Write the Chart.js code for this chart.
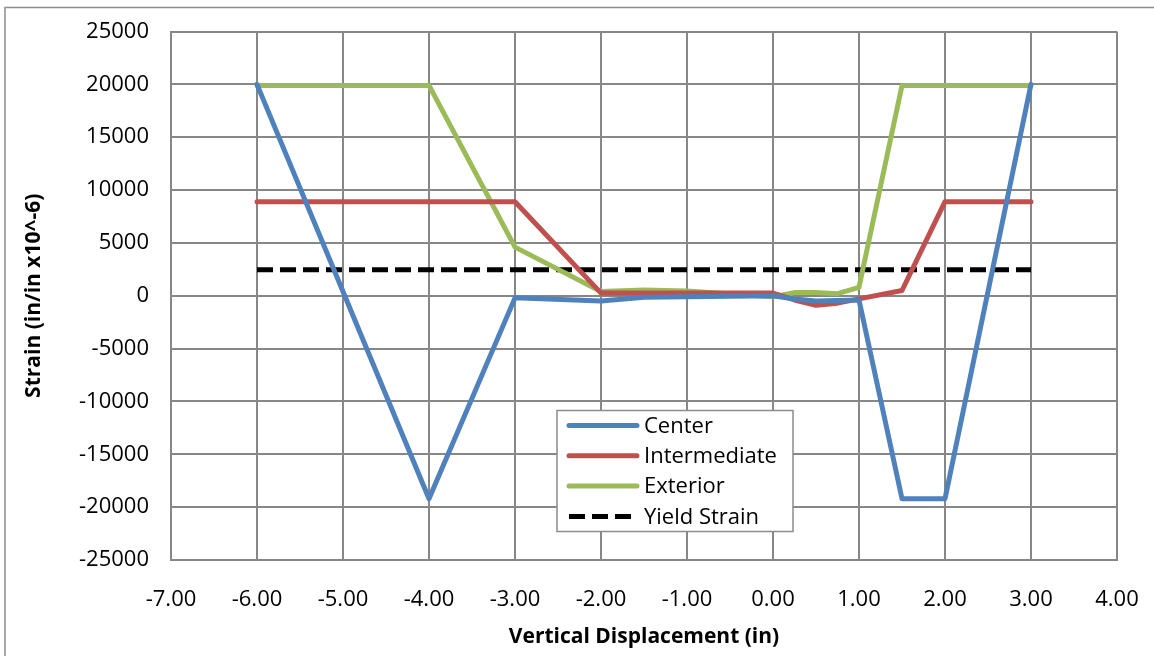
<!DOCTYPE html>
<html>
<head>
<meta charset="utf-8">
<script src="https://cdn.jsdelivr.net/npm/chart.js@4/dist/chart.umd.min.js"></script>
<style>
  html, body { margin: 0; padding: 0; background: #fff; }
  #wrap { width: 1154px; height: 656px; position: relative; }
</style>
</head>
<body>
<div id="wrap"><canvas id="strainChart" width="1154" height="656"></canvas></div>
<script>
// Data
var centerX = [-6, -4, -3, -2, -1.5, -1, 0, 0.25, 0.5, 0.75, 1, 1.5, 2, 3];
var centerY = [20000, -19200, -200, -500, -150, -100, 0, -300, -500, -450, -400, -19200, -19200, 20000];

var intermediateX = [-6, -3, -2, -1, 0, 0.25, 0.5, 0.75, 1, 1.5, 2, 3];
var intermediateY = [8900, 8900, 250, 250, 250, -400, -900, -700, -300, 500, 8900, 8900];

var exteriorX = [-6, -4, -3, -2, -1.5, -1, 0, 0.25, 0.5, 0.75, 1, 1.5, 2, 3];
var exteriorY = [19900, 19900, 4600, 400, 550, 450, -100, 300, 300, 200, 800, 19900, 19900, 19900];

var yieldX = [-6, 3];
var yieldY = [2450, 2450];

var seriesNames = ["Center", "Intermediate", "Exterior", "Yield Strain"];
var seriesColors = ["#4F81BD", "#C0504D", "#9BBB59", "#000000"];

function toPoints(xs, ys) {
  var pts = [];
  for (var i = 0; i < xs.length; i++) pts.push({ x: xs[i], y: ys[i] });
  return pts;
}

var FONT = "'Open Sans', 'Liberation Sans', sans-serif";
var gridColor = "#878787";

// outer border of the chart object
var borderPlugin = {
  id: "outerBorder",
  beforeDraw: function (chart) {
    var ctx = chart.ctx;
    ctx.save();
    ctx.fillStyle = "#fff";
    ctx.fillRect(0, 0, chart.width, chart.height);
    ctx.strokeStyle = "#8c8c8c";
    ctx.lineWidth = 1.5;
    ctx.strokeRect(5, 7.5, 1200, 700);
    ctx.restore();
  }
};

// legend box drawn inside the plot
var boxLegend = {
  id: "boxLegend",
  afterDatasetsDraw: function (chart) {
    var ctx = chart.ctx;
    var a = chart.chartArea;
    var left = a.left + 386, top = a.top + 379, w = 236, h = 121;
    ctx.save();
    ctx.fillStyle = "#fff";
    ctx.fillRect(left, top, w, h);
    ctx.strokeStyle = "#8c8c8c";
    ctx.lineWidth = 1.5;
    ctx.strokeRect(left, top, w, h);
    ctx.font = "22px " + FONT;
    ctx.textBaseline = "middle";
    for (var i = 0; i < seriesNames.length; i++) {
      var cy = top + 15 + i * 30.3;
      ctx.beginPath();
      ctx.strokeStyle = seriesColors[i];
      ctx.lineWidth = 5;
      ctx.lineCap = i === 3 ? "butt" : "round";
      ctx.setLineDash(i === 3 ? [16, 7] : []);
      ctx.moveTo(left + 12, cy);
      ctx.lineTo(left + 80, cy);
      ctx.stroke();
      ctx.setLineDash([]);
      ctx.fillStyle = "#000";
      ctx.fillText(seriesNames[i], left + 87, cy + 1);
    }
    ctx.restore();
  }
};

var ctx = document.getElementById("strainChart").getContext("2d");
var strainChart = new Chart(ctx, {
  type: "scatter",
  data: {
    datasets: [
      { label: seriesNames[0], data: toPoints(centerX, centerY), borderColor: seriesColors[0], backgroundColor: seriesColors[0] },
      { label: seriesNames[1], data: toPoints(intermediateX, intermediateY), borderColor: seriesColors[1], backgroundColor: seriesColors[1] },
      { label: seriesNames[2], data: toPoints(exteriorX, exteriorY), borderColor: seriesColors[2], backgroundColor: seriesColors[2] },
      { label: seriesNames[3], data: toPoints(yieldX, yieldY), borderColor: seriesColors[3], backgroundColor: seriesColors[3], borderDash: [16, 7], borderCapStyle: "butt" }
    ]
  },
  options: {
    responsive: false,
    animation: false,
    showLine: true,
    layout: { padding: { left: 0, top: 31.5, right: 37, bottom: 0 } },
    elements: {
      point: { radius: 0, hoverRadius: 0 },
      line: { borderWidth: 5, tension: 0, borderJoinStyle: "round", borderCapStyle: "round" }
    },
    plugins: {
      legend: { display: false },
      tooltip: { enabled: false }
    },
    scales: {
      x: {
        type: "linear",
        min: -7,
        max: 4,
        afterFit: function (s) { s.height = 96; s.paddingLeft = 0; s.paddingRight = 0; },
        ticks: {
          stepSize: 1,
          color: "#000",
          padding: 27,
          font: { family: FONT, size: 22 },
          callback: function (v) { return v.toFixed(2); }
        },
        grid: { color: gridColor, lineWidth: 2, drawTicks: false },
        border: { color: gridColor, width: 2 },
        title: {
          display: true,
          text: "Vertical Displacement (in)",
          color: "#000",
          font: { family: FONT, size: 21, weight: "bold" },
          padding: { top: 10, bottom: 6 }
        }
      },
      y: {
        type: "linear",
        min: -25000,
        max: 25000,
        afterFit: function (s) { s.width = 171; s.paddingTop = 0; s.paddingBottom = 0; },
        ticks: {
          stepSize: 5000,
          color: "#000",
          padding: 22,
          font: { family: FONT, size: 22 },
          callback: function (v) { return String(v); }
        },
        grid: { color: gridColor, lineWidth: 2, drawTicks: false },
        border: { color: gridColor, width: 2 },
        title: {
          display: true,
          text: "Strain (in/in x10^-6)",
          color: "#000",
          font: { family: FONT, size: 21, weight: "bold" },
          padding: { top: 21, bottom: 0 }
        }
      }
    }
  },
  plugins: [borderPlugin, boxLegend]
});
</script>
</body>
</html>
